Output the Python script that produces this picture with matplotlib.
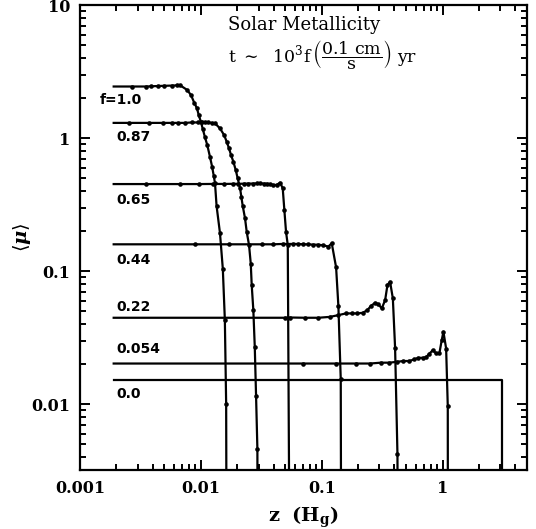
import matplotlib
matplotlib.use("Agg")
import matplotlib.pyplot as plt
from matplotlib.ticker import FuncFormatter, NullFormatter, LogLocator

plt.rcParams["mathtext.fontset"] = "dejavuserif"

# every profile starts at the same inner height and ends on a vertical drop
z_start = 0.0019
mu_floor = 1e-4

# f = 1.0
z_f100 = [0.0027, 0.0035, 0.0039, 0.0044, 0.0050, 0.0058, 0.0064, 0.0067,
          0.0077, 0.0083, 0.0088, 0.0093, 0.0096, 0.0100, 0.0104, 0.0108,
          0.0113, 0.0119, 0.0124, 0.0128, 0.0131, 0.0135, 0.0144, 0.0152,
          0.0158, 0.0162]
mu_f100 = [2.44, 2.44, 2.45, 2.46, 2.47, 2.48, 2.49, 2.50,
           2.30, 2.10, 1.85, 1.67, 1.49, 1.33, 1.16, 1.02,
           0.886, 0.723, 0.608, 0.518, 0.456, 0.308, 0.193, 0.104,
           0.043, 0.010]
z_end_f100 = 0.0164

# f = 0.87
z_f087 = [0.00255, 0.00373, 0.0049, 0.00574, 0.00651, 0.0074, 0.0084,
          0.00953, 0.01017, 0.01083, 0.01153, 0.01228, 0.01311,
          0.01442, 0.01556, 0.01638, 0.0171, 0.01778, 0.01858, 0.01945,
          0.02019, 0.02112, 0.02163, 0.0222, 0.02321, 0.02397, 0.02505,
          0.02588, 0.02636, 0.02719, 0.02794, 0.02864, 0.02937]
mu_f087 = [1.30, 1.30, 1.30, 1.30, 1.30, 1.30, 1.31,
           1.31, 1.31, 1.31, 1.31, 1.30, 1.29,
           1.18, 1.055, 0.938, 0.837, 0.745, 0.664, 0.574,
           0.497, 0.419, 0.362, 0.31, 0.249, 0.197, 0.157,
           0.114, 0.0785, 0.0509, 0.027, 0.0115, 0.00461]
z_end_f087 = 0.0296

# f = 0.65
z_f065 = [0.00352, 0.00672, 0.00972, 0.01269, 0.01556, 0.0186, 0.0204,
          0.0228, 0.0246, 0.0269, 0.0290, 0.0309, 0.0330, 0.0352, 0.0374,
          0.0399, 0.0425, 0.0453, 0.0476, 0.0491, 0.0507, 0.0524]
mu_f065 = [0.451, 0.451, 0.451, 0.452, 0.452, 0.453, 0.453,
           0.454, 0.455, 0.455, 0.456, 0.456, 0.455, 0.454, 0.450,
           0.443, 0.445, 0.462, 0.419, 0.288, 0.197, 0.157]
z_end_f065 = 0.0548

# f = 0.44
z_f044 = [0.00895, 0.0171, 0.0323, 0.0398, 0.0476, 0.0583, 0.0641,
          0.0706, 0.0776, 0.0854, 0.0940, 0.1033, 0.1137, 0.1211,
          0.1316, 0.1375, 0.1438]
mu_f044 = [0.159, 0.159, 0.159, 0.159, 0.160, 0.160, 0.160,
           0.159, 0.159, 0.158, 0.158, 0.156, 0.153, 0.162,
           0.1067, 0.0543, 0.01535]
z_end_f044 = 0.1455

# f = 0.22
z_f022 = [0.0498, 0.0548, 0.0729, 0.094, 0.1174, 0.1375, 0.159, 0.1775,
          0.1976, 0.2188, 0.239, 0.2548, 0.2768, 0.2946, 0.3143, 0.335,
          0.350, 0.368, 0.388, 0.405, 0.4236]
mu_f022 = [0.0446, 0.0448, 0.0446, 0.0446, 0.0453, 0.0467, 0.0481, 0.0481,
           0.0481, 0.0486, 0.0509, 0.0546, 0.0578, 0.0562, 0.0525, 0.0605,
           0.0785, 0.0832, 0.0624, 0.0265, 0.0042]
z_end_f022 = 0.43

# f = 0.054
z_f0054 = [0.0698, 0.1316, 0.1927, 0.2517, 0.3085, 0.363, 0.418, 0.474,
           0.532, 0.582, 0.631, 0.687, 0.731, 0.774, 0.832, 0.881, 0.943,
           0.985, 1.017, 1.071, 1.105]
mu_f0054 = [0.0202, 0.0202, 0.0202, 0.0202, 0.0205, 0.0205, 0.0208, 0.0211,
            0.0211, 0.0217, 0.0223, 0.0223, 0.0225, 0.0238, 0.0255, 0.0241,
            0.0243, 0.0303, 0.035, 0.0262, 0.00966]
z_end_f0054 = 1.11

# f = 0.0 (no sampled points, just a flat step)
z_f000 = [3.1]
mu_f000 = [0.0151]
z_end_f000 = 3.1

profiles = [
    (z_f100, mu_f100, z_end_f100, True),
    (z_f087, mu_f087, z_end_f087, True),
    (z_f065, mu_f065, z_end_f065, True),
    (z_f044, mu_f044, z_end_f044, True),
    (z_f022, mu_f022, z_end_f022, True),
    (z_f0054, mu_f0054, z_end_f0054, True),
    (z_f000, mu_f000, z_end_f000, False),
]

f_labels = ["0.87", "0.65", "0.44", "0.22", "0.054", "0.0"]
f_label_y = [1.02, 0.342, 0.121, 0.054, 0.026, 0.0119]

fig = plt.figure(figsize=(5.36, 5.29), dpi=100)
ax = fig.add_axes([80 / 536, 1 - 470 / 529, 447 / 536, 465 / 529])

for z, mu, z_end, dots in profiles:
    line_z = [z_start] + list(z) + [z_end]
    line_mu = [mu[0]] + list(mu) + [mu_floor]
    ax.plot(line_z, line_mu, color="black", lw=1.6, solid_joinstyle="round")
    if dots:
        ax.plot(z, mu, "o", color="black", ms=3.3, mew=0)

ax.set_xscale("log")
ax.set_yscale("log")
ax.set_xlim(0.001, 5.0)
ax.set_ylim(0.0032, 10)

ax.text(0.00146, 1.93, "f=1.0", fontsize=10, fontweight="bold",
        family="DejaVu Sans", va="center", ha="left")
for lab, yy in zip(f_labels, f_label_y):
    ax.text(0.002, yy, lab, fontsize=10, fontweight="bold",
            family="DejaVu Sans", va="center", ha="left")

ax.text(0.331, 0.957, "Solar Metallicity", transform=ax.transAxes,
        family="DejaVu Serif", fontsize=13, va="center", ha="left")
ax.text(0.331, 0.893,
        r"t $\sim$  10$^{3}$f$\,\left(\dfrac{0.1\ \mathrm{cm}}{\mathrm{s}}\right)$ yr",
        transform=ax.transAxes, family="DejaVu Serif", fontsize=12.5,
        va="center", ha="left")

fmt = FuncFormatter(lambda v, _: f"{v:g}")
ax.xaxis.set_major_formatter(fmt)
ax.yaxis.set_major_formatter(fmt)
ax.xaxis.set_minor_formatter(NullFormatter())
ax.yaxis.set_minor_formatter(NullFormatter())
ax.xaxis.set_minor_locator(LogLocator(base=10, subs=range(2, 10), numticks=20))
ax.yaxis.set_minor_locator(LogLocator(base=10, subs=range(2, 10), numticks=20))

ax.tick_params(which="both", direction="in", top=True, right=True, width=1.4)
ax.tick_params(which="major", length=7.5, pad=7)
ax.tick_params(which="minor", length=4)
for lab in ax.get_xticklabels() + ax.get_yticklabels():
    lab.set_family("DejaVu Serif")
    lab.set_fontweight("bold")
    lab.set_fontsize(11.5)
for sp in ax.spines.values():
    sp.set_linewidth(1.6)

ax.set_xlabel(r"$\mathbf{z\ \ (H_g)}$", fontsize=14, labelpad=6)
ax.set_ylabel(r"$\langle\boldsymbol{\mu}\rangle$", fontsize=14)
ax.yaxis.set_label_coords(-0.105, 0.5)

fig.savefig("out.png", dpi=100)
